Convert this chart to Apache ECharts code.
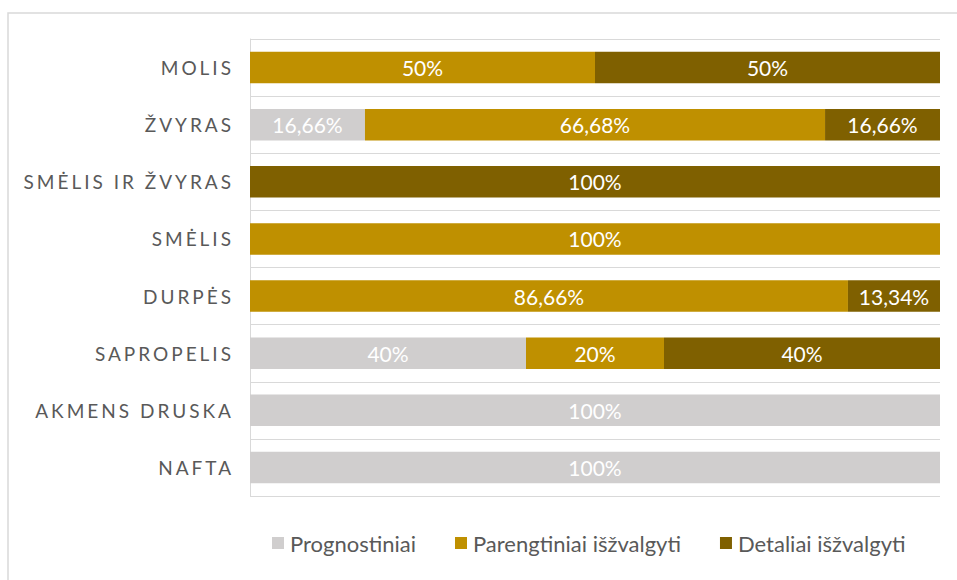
<!DOCTYPE html>
<html>
<head>
<meta charset="utf-8">
<script src="https://cdn.jsdelivr.net/npm/echarts@6/dist/echarts.min.js"></script>
<style>
html,body{margin:0;padding:0;background:#fff;}
#c{width:957px;height:580px;}
#c text[text-anchor="end"]{letter-spacing:3px;}
</style>
</head>
<body>
<div id="c"></div>
<script>
const categories = ['MOLIS','ŽVYRAS','SMĖLIS IR ŽVYRAS','SMĖLIS','DURPĖS','SAPROPELIS','AKMENS DRUSKA','NAFTA'];
const seriesNames = ['Prognostiniai','Parengtiniai išžvalgyti','Detaliai išžvalgyti'];
const prognostiniai = [0,16.66,0,0,0,40,100,100];
const parengtiniai = [50,66.68,0,100,86.66,20,0,0];
const detaliai = [50,16.66,100,0,13.34,40,0,0];
const colors = ['#d0cece','#bf9000','#7f6000'];

const chart = echarts.init(document.getElementById('c'), null, {renderer:'svg'});
const FONT = 'Lato';
function mk(name, data, color){
  return {
    name, type:'bar', stack:'total', data: data.map(v => v === 0 ? null : v),
    barWidth:'55%',
    itemStyle:{color},
    label:{show:true, position:'inside', color:'#ffffff', fontFamily:FONT, fontSize:21,
      formatter: p => (p.value==null?'':String(p.value).replace('.',',')+'%')}
  };
}
chart.setOption({
  animation:false,
  graphic:[{type:'rect', shape:{x:8,y:13,width:980,height:600}, style:{fill:'none', stroke:'#d9d9d9', lineWidth:1.5}, silent:true, z:-1}],
  grid:{left:250,right:17,top:39,bottom:84},
  legend:{left:267, top:527, itemWidth:12, itemHeight:12, itemGap:39, icon:'rect',
    textStyle:{color:'#595959', fontFamily:FONT, fontSize:22, padding:[0,0,0,1]},
    data:seriesNames},
  xAxis:{type:'value', min:0, max:100, show:false},
  yAxis:{type:'category', data:categories, inverse:true,
    axisLine:{show:true, lineStyle:{color:'#d9d9d9', width:1}},
    axisTick:{show:false},
    splitLine:{show:true, lineStyle:{color:'#d9d9d9', width:1}},
    axisLabel:{color:'#595959', fontFamily:FONT, fontSize:19, margin:16}},
  series:[mk(seriesNames[0],prognostiniai,colors[0]),mk(seriesNames[1],parengtiniai,colors[1]),mk(seriesNames[2],detaliai,colors[2])]
});
</script>
</body>
</html>
